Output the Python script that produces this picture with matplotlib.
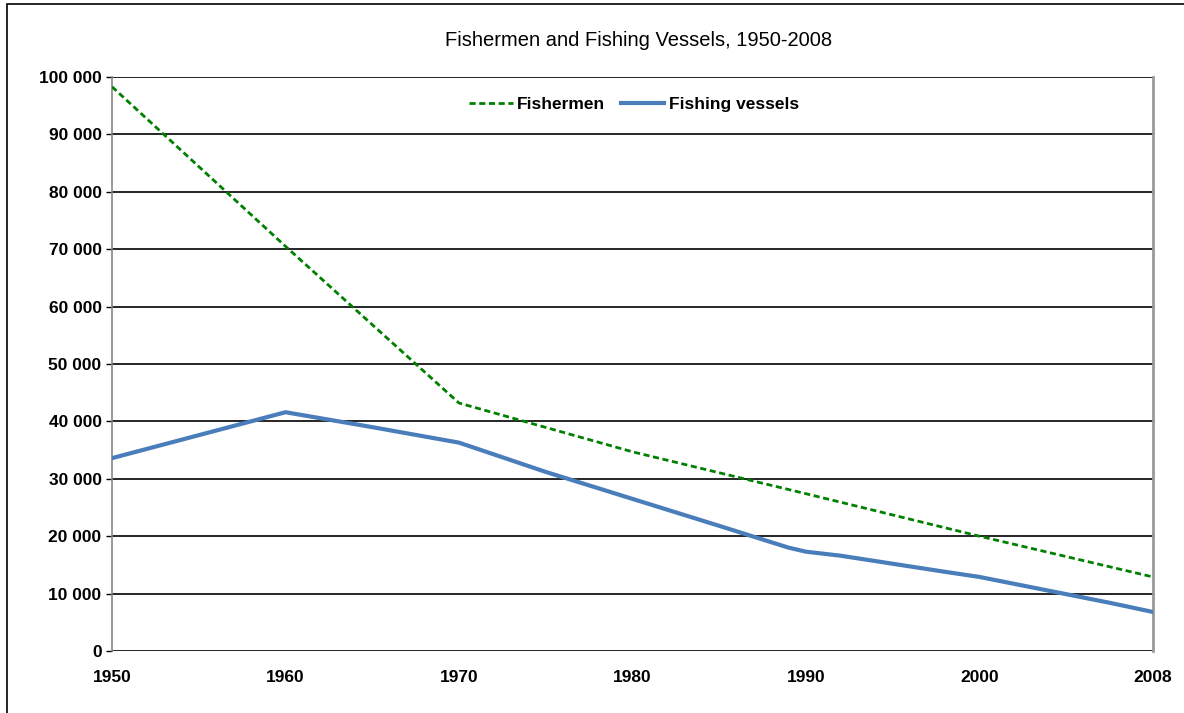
import numpy as np
import matplotlib.pyplot as plt
from matplotlib.patches import Rectangle
from matplotlib.ticker import FuncFormatter

# values
fishermen_years = [1950, 1960, 1970, 1980, 1990, 2000, 2008]
fishermen = [98300, 70500, 43200, 34700, 27400, 20000, 12900]

vessel_years = [1950, 1955, 1960, 1965, 1970, 1975, 1980, 1985, 1989, 1990,
                1992, 1995, 1998, 2000, 2002, 2004, 2006, 2008]
vessels = [33600, 37600, 41600, 39000, 36300, 31200, 26500, 21800, 18000, 17300,
           16600, 15200, 13800, 12900, 11400, 9900, 8400, 6800]

tick_years = [1950, 1960, 1970, 1980, 1990, 2000, 2008]
y_ticks = list(range(0, 100001, 10000))

# category-style axis: the last label (2008) sits one full step after 2000
pos_years = [1950, 2000, 2008]
pos_index = [0, 50, 60]


def forward(x):
    return np.interp(x, pos_years, pos_index)


def inverse(x):
    return np.interp(x, pos_index, pos_years)


def main():
    plt.rcParams["font.family"] = ["Liberation Sans", "DejaVu Sans"]

    fig = plt.figure(figsize=(11.84, 7.13), dpi=100)
    ax = fig.add_axes([112 / 1184, 1 - 651 / 713, (1153 - 112) / 1184, (651 - 77) / 713])

    ax.set_xscale("function", functions=(forward, inverse))
    ax.set_xlim(1950, 2008)
    ax.set_ylim(0, 100000)

    for y in y_ticks:
        ax.axhline(y, color="black", lw=1.2, zorder=1)

    ax.plot(fishermen_years, fishermen, color="#008000", lw=2.0,
            linestyle=(0, (2.2, 1.3)), label="Fishermen", zorder=3)
    ax.plot(vessel_years, vessels, color="#4a7ebb", lw=3.0,
            label="Fishing vessels", zorder=4, solid_joinstyle="round")

    ax.set_xticks(tick_years)
    ax.set_xticklabels([str(y) for y in tick_years])
    ax.set_yticks(y_ticks)
    ax.yaxis.set_major_formatter(FuncFormatter(lambda v, p: f"{int(v):,}".replace(",", " ")))
    ax.minorticks_off()

    ax.tick_params(axis="x", length=0, pad=14, labelsize=12.5)
    ax.tick_params(axis="y", length=4.5, width=1, color="black", pad=3, labelsize=12.5)
    for lab in ax.get_xticklabels() + ax.get_yticklabels():
        lab.set_fontweight("bold")

    ax.spines["top"].set_visible(False)
    ax.spines["bottom"].set_visible(False)
    ax.spines["left"].set_color("#888888")
    ax.spines["right"].set_color("#999999")
    ax.spines["left"].set_linewidth(1.2)
    ax.spines["right"].set_linewidth(2.0)

    ax.legend(loc="center", bbox_to_anchor=(634 / 1184, 1 - 104 / 713),
              bbox_transform=fig.transFigure, ncol=2, frameon=False,
              prop={"size": 12.5, "weight": "bold"}, handlelength=2.5,
              handletextpad=0.25, columnspacing=0.9)

    fig.text(639 / 1184, 1 - 40 / 713, "Fishermen and Fishing Vessels, 1950-2008",
             ha="center", va="center", fontsize=14.5)

    fig.patches.append(Rectangle((7 / 1184, -0.1), 1.2, 1 - 4 / 713 + 0.1,
                                 transform=fig.transFigure, fill=False,
                                 edgecolor="black", lw=1.2))

    plt.savefig("out.png", dpi=100)


if __name__ == "__main__":
    main()
